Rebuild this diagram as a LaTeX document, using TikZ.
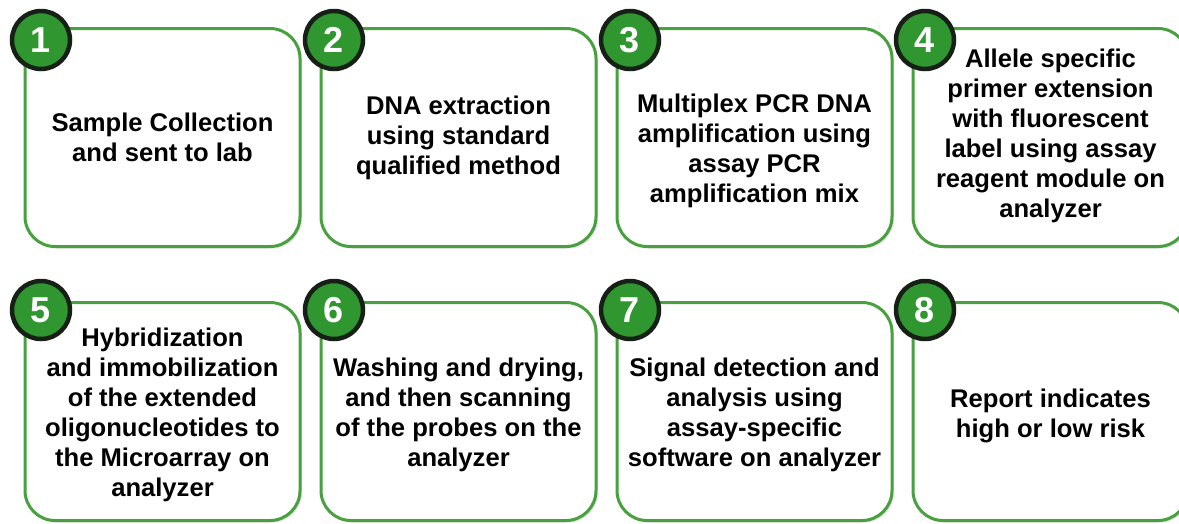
\documentclass[tikz,border=0pt]{standalone}
\usepackage{fontspec}
\setmainfont{Liberation Sans}
\usetikzlibrary{shadows}
\definecolor{boxgreen}{RGB}{72,160,62}
\definecolor{dotgreen}{RGB}{48,150,48}
\definecolor{dotrim}{RGB}{22,32,22}

\begin{document}
\begin{tikzpicture}[x=1pt,y=1pt,
    stepbox/.style={draw=boxgreen,line width=3pt,rounded corners=30pt,fill=white,
        minimum width=275pt,minimum height=218pt,
        drop shadow={shadow xshift=2pt,shadow yshift=-2pt,opacity=.25}},
    steptext/.style={align=center,inner sep=0pt,
        font=\bfseries\fontsize{25.6}{30}\selectfont},
    numdot/.style={circle,draw=dotrim,line width=4.5pt,fill=dotgreen,text=white,
        minimum size=58pt,inner sep=0pt,font=\bfseries\fontsize{36}{36}\selectfont}]
    \useasboundingbox (0,0) rectangle (1179,-523);
    % frames
    \node[stepbox] (box1) at (162.5,-137.5) {};
    \node[stepbox] (box2) at (458.5,-137.5) {};
    \node[stepbox] (box3) at (754.5,-137.5) {};
    \node[stepbox] (box4) at (1050.5,-137.5) {};
    \node[stepbox] (box5) at (162.5,-411.5) {};
    \node[stepbox] (box6) at (458.5,-411.5) {};
    \node[stepbox] (box7) at (754.5,-411.5) {};
    \node[stepbox] (box8) at (1050.5,-411.5) {};
    % texts
    \node[steptext] (txt1) at (box1.center) {Sample Collection\\and sent to lab};
    \node[steptext] (txt2) at (box2.center) {DNA extraction\\using standard\\qualified method};
    \node[steptext] (txt3) at ([yshift=-13pt]box3.center) {Multiplex PCR DNA\\amplification using\\assay PCR\\amplification mix};
    \node[steptext] (txt4) at ([yshift=2pt]box4.center) {Allele specific\\primer extension\\with fluorescent\\label using assay\\reagent module on\\analyzer};
    \node[steptext] (txt5) at ([yshift=-3pt]box5.center) {Hybridization\\and immobilization\\of the extended\\oligonucleotides to\\the Microarray on\\analyzer};
    \node[steptext] (txt6) at ([yshift=-3pt]box6.center) {Washing and drying,\\and then scanning\\of the probes on the\\analyzer};
    \node[steptext] (txt7) at ([yshift=-3pt]box7.center) {Signal detection and\\analysis using\\assay-specific\\software on analyzer};
    \node[steptext] (txt8) at ([yshift=-4pt]box8.center) {Report indicates\\high or low risk};
    % numbers
    \node[numdot] (num1) at (41,-40) {1};
    \node[numdot] (num2) at (334,-40) {2};
    \node[numdot] (num3) at (630,-40) {3};
    \node[numdot] (num4) at (925,-40) {4};
    \node[numdot] (num5) at (41,-310) {5};
    \node[numdot] (num6) at (334,-310) {6};
    \node[numdot] (num7) at (630,-310) {7};
    \node[numdot] (num8) at (925,-310) {8};
\end{tikzpicture}
\end{document}
